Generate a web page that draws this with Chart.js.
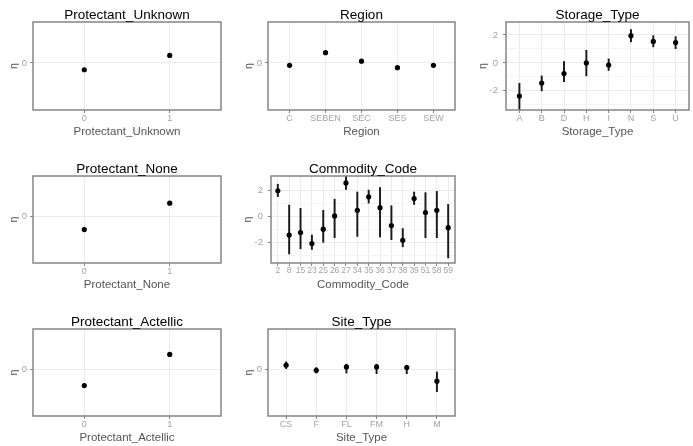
<!DOCTYPE html>
<html>
<head>
<meta charset="utf-8">
<script src="https://cdn.jsdelivr.net/npm/chart.js@4.4.1/dist/chart.umd.min.js"></script>
<style>
    body { margin: 0; background: #fff; width: 693px; height: 446px; position: relative; overflow: hidden; }
    canvas { position: absolute; }
</style>
</head>
<body>
<script>
// ======================
// DONNEES
// ======================
const protUnknownCats = ['0', '1'];
const protUnknownEta = [-0.20, 0.22];

const regionCats = ['C', 'SEBEN', 'SEC', 'SES', 'SEW'];
const regionEta = [-0.07, 0.30, 0.05, -0.14, -0.07];

const storageCats = ['A', 'B', 'D', 'H', 'I', 'N', 'S', 'U'];
const storageEta = [-2.37, -1.44, -0.76, 0.00, -0.15, 1.95, 1.54, 1.46];
const storageLo = [-3.60, -2.00, -1.34, -0.93, -0.54, 1.51, 1.15, 1.02];
const storageHi = [-1.46, -0.93, 0.10, 0.90, 0.29, 2.39, 1.95, 1.88];

const protNoneCats = ['0', '1'];
const protNoneEta = [-0.39, 0.41];

const commodityCats = ['2', '8', '15', '23', '25', '26', '27', '34', '35', '36', '37', '38', '39', '51', '58', '59'];
const commodityEta = [1.95, -1.45, -1.25, -2.10, -1.00, 0.02, 2.55, 0.45, 1.48, 0.65, -0.72, -1.85, 1.35, 0.28, 0.45, -0.88];
const commodityLo = [1.50, -2.90, -2.50, -2.55, -2.00, -1.65, 2.05, -1.55, 1.00, -1.60, -1.80, -2.35, 0.90, -1.65, -1.65, -3.20];
const commodityHi = [2.45, 0.85, 0.60, -1.45, 0.45, 1.30, 3.20, 1.85, 2.00, 2.20, 0.80, -0.95, 1.85, 1.80, 1.90, 0.90];

const protActellicCats = ['0', '1'];
const protActellicEta = [-0.47, 0.45];

const siteCats = ['CS', 'F', 'FL', 'FM', 'H', 'M'];
const siteEta = [0.13, -0.02, 0.08, 0.08, 0.06, -0.34];
const siteLo = [0.03, -0.10, -0.10, -0.12, -0.12, -0.65];
const siteHi = [0.23, 0.06, 0.16, 0.16, 0.13, -0.07];

const zeroTicks = [0];
const numTicks = [-3, -2, -1, 0, 1, 2];
const numLabels = [-2, 0, 2];

// ======================
// STYLE
// ======================
const FONT = "'Liberation Sans', Arial, sans-serif";
const BORDER = '#858585';
const AXIS_W = 30;
const TOP_H = 16;
const BOTTOM_H = 30;

const panelDeco = {
    id: 'panelDeco',
    afterDraw(chart, args, opts) {
        const { ctx, chartArea: a } = chart;
        ctx.save();
        ctx.strokeStyle = BORDER;
        ctx.lineWidth = 1.5;
        ctx.strokeRect(a.left, a.top, a.right - a.left, a.bottom - a.top);
        ctx.fillStyle = '#000';
        ctx.font = '13.5px ' + FONT;
        ctx.textAlign = 'center';
        ctx.textBaseline = 'middle';
        ctx.fillText(opts.text, (a.left + a.right) / 2, a.top - 7);
        ctx.restore();
    }
};

function makePanel(p) {
    const w = (p.box.r - p.box.l) + AXIS_W + 2;
    const h = (p.box.b - p.box.t) + TOP_H + BOTTOM_H;
    const canvas = document.createElement('canvas');
    canvas.width = w;
    canvas.height = h;
    canvas.style.left = (p.box.l - AXIS_W) + 'px';
    canvas.style.top = (p.box.t - TOP_H) + 'px';
    canvas.style.width = w + 'px';
    canvas.style.height = h + 'px';
    document.body.appendChild(canvas);

    const cats = p.cats;
    const datasets = [{
        type: 'scatter',
        data: p.eta.map((v, i) => ({ x: i, y: v })),
        backgroundColor: '#000',
        borderWidth: 0,
        pointRadius: 2.6,
        order: 0,
        clip: 0
    }];
    if (p.lo) {
        datasets.push({
            type: 'bar',
            data: p.lo.map((v, i) => ({ x: i, y: [v, p.hi[i]] })),
            backgroundColor: '#1a1a1a',
            barThickness: 1.3,
            order: 1,
            clip: 0
        });
    }

    const labeled = p.yLabels;
    new Chart(canvas, {
        data: { datasets: datasets },
        options: {
            responsive: false,
            animation: false,
            layout: { padding: { top: TOP_H, right: 2, left: 0, bottom: 0 } },
            plugins: {
                legend: { display: false },
                tooltip: { enabled: false },
                panelDeco: { text: p.title }
            },
            scales: {
                x: {
                    type: 'linear',
                    min: -0.6,
                    max: cats.length - 0.4,
                    offset: false,
                    afterBuildTicks: s => { s.ticks = cats.map((c, i) => ({ value: i })); },
                    afterFit: s => { s.height = BOTTOM_H; },
                    ticks: {
                        callback: (v, i) => cats[i],
                        color: '#a3a3a3',
                        font: { size: p.xFont || 9, family: FONT },
                        padding: 0,
                        maxRotation: 0,
                        minRotation: 0,
                        autoSkip: false
                    },
                    grid: { offset: false, color: '#ebebeb', tickColor: BORDER, tickLength: 3 },
                    border: { display: false },
                    title: {
                        display: true,
                        text: p.xTitle,
                        color: '#555',
                        font: { size: 11.5, family: FONT, lineHeight: 1.2 },
                        padding: { top: 0, bottom: 1 }
                    }
                },
                y: {
                    type: 'linear',
                    min: p.yMin,
                    max: p.yMax,
                    afterBuildTicks: s => { s.ticks = p.yTicks.map(v => ({ value: v })); },
                    afterFit: s => { s.width = AXIS_W; },
                    ticks: {
                        callback: v => labeled.includes(v) ? String(v) : '',
                        color: '#a3a3a3',
                        font: { size: 9.5, family: FONT },
                        padding: p.tickPad
                    },
                    grid: {
                        color: c => labeled.includes(c.tick.value) ? '#ebebeb' : '#f5f5f5',
                        tickColor: c => labeled.includes(c.tick.value) ? BORDER : 'rgba(0,0,0,0)',
                        tickLength: 3
                    },
                    border: { display: false },
                    title: {
                        display: true,
                        text: 'η',
                        color: '#555',
                        font: { size: 10.5, family: FONT, lineHeight: 1.2 },
                        padding: { top: p.etaPad, bottom: 0 }
                    }
                }
            }
        },
        plugins: [panelDeco]
    });
}

// ======================
// PANNEAUX
// ======================
makePanel({ title: 'Protectant_Unknown', xTitle: 'Protectant_Unknown', box: { l: 33, t: 22, r: 223, b: 110 },
    cats: protUnknownCats, eta: protUnknownEta, yMin: -1.38, yMax: 1.2, yTicks: zeroTicks, yLabels: zeroTicks, tickPad: 3, etaPad: 5 });
makePanel({ title: 'Region', xTitle: 'Region', box: { l: 268, t: 22, r: 457, b: 110 },
    cats: regionCats, eta: regionEta, yMin: -1.38, yMax: 1.2, yTicks: zeroTicks, yLabels: zeroTicks, tickPad: 3, etaPad: 5 });
makePanel({ title: 'Storage_Type', xTitle: 'Storage_Type', box: { l: 506, t: 22, r: 691, b: 110 },
    cats: storageCats, eta: storageEta, lo: storageLo, hi: storageHi, yMin: -3.37, yMax: 2.93, yTicks: numTicks, yLabels: numLabels, tickPad: 5, etaPad: 1 });
makePanel({ title: 'Protectant_None', xTitle: 'Protectant_None', box: { l: 33, t: 176, r: 223, b: 263 },
    cats: protNoneCats, eta: protNoneEta, yMin: -1.40, yMax: 1.23, yTicks: zeroTicks, yLabels: zeroTicks, tickPad: 3, etaPad: 5 });
makePanel({ title: 'Commodity_Code', xTitle: 'Commodity_Code', box: { l: 271, t: 176, r: 457, b: 263 },
    cats: commodityCats, eta: commodityEta, lo: commodityLo, hi: commodityHi, yMin: -3.59, yMax: 3.08, yTicks: numTicks, yLabels: numLabels, tickPad: 5, etaPad: 1, xFont: 8.5 });
makePanel({ title: 'Protectant_Actellic', xTitle: 'Protectant_Actellic', box: { l: 33, t: 329, r: 223, b: 416 },
    cats: protActellicCats, eta: protActellicEta, yMin: -1.37, yMax: 1.2, yTicks: zeroTicks, yLabels: zeroTicks, tickPad: 3, etaPad: 5 });
makePanel({ title: 'Site_Type', xTitle: 'Site_Type', box: { l: 268, t: 329, r: 457, b: 416 },
    cats: siteCats, eta: siteEta, lo: siteLo, hi: siteHi, yMin: -1.37, yMax: 1.2, yTicks: zeroTicks, yLabels: zeroTicks, tickPad: 3, etaPad: 5 });
</script>
</body>
</html>
